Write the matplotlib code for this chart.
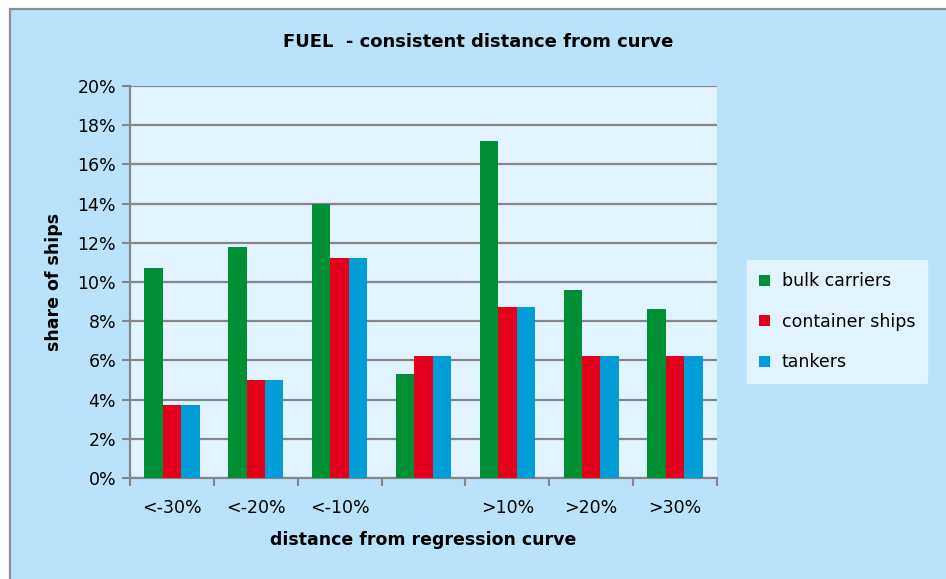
import matplotlib
matplotlib.use("Agg")
import matplotlib.pyplot as plt
from matplotlib.patches import Rectangle
import numpy as np

categories = ["<-30%", "<-20%", "<-10%", "", ">10%", ">20%", ">30%"]
bulk_carriers = [10.7, 11.8, 14.0, 5.3, 17.2, 9.6, 8.6]
container_ships = [3.75, 5.0, 11.25, 6.25, 8.75, 6.25, 6.25]
tankers = [3.75, 5.0, 11.25, 6.25, 8.75, 6.25, 6.25]

series = [
    ("bulk carriers", bulk_carriers, "#008f34"),
    ("container ships", container_ships, "#e2001d"),
    ("tankers", tankers, "#009dd9"),
]

outer_bg = "#b9e3fc"
plot_bg = "#e1f3ff"
grid_col = "#868686"

plt.rcParams["font.family"] = ["DejaVu Sans"]

fig = plt.figure(figsize=(9.46, 5.79), dpi=100, facecolor="white")
W, H = 946, 579

# chart frame, runs off the right and bottom edges
fig.patches.append(Rectangle((10 / W, -0.02), 1.0, (H - 9) / H + 0.02,
                             transform=fig.transFigure, facecolor=outer_bg,
                             edgecolor="#8e8e8e", linewidth=1.6, zorder=-10))

ax = fig.add_axes([130 / W, (H - 478) / H, 587 / W, 392 / H])
ax.set_facecolor(plot_bg)

x = np.arange(len(categories))
width = 0.22
for i, (name, vals, col) in enumerate(series):
    ax.bar(x + (i - 1) * width, vals, width, color=col, label=name, zorder=3)

ax.set_xlim(-0.5, len(categories) - 0.5)
ax.set_ylim(0, 20)
ax.set_yticks(np.arange(0, 21, 2))
ax.set_yticklabels([f"{v}%" for v in range(0, 21, 2)])
ax.yaxis.grid(True, color=grid_col, linewidth=1.6, zorder=1)

# category boundaries as major ticks, labels on minor ticks
ax.set_xticks(np.arange(-0.5, len(categories), 1.0))
ax.set_xticklabels([])
ax.set_xticks(x, minor=True)
ax.set_xticklabels(categories, minor=True)
ax.tick_params(axis="x", which="major", length=6, width=1.5, color=grid_col, direction="out")
ax.tick_params(axis="x", which="minor", length=0, pad=15, labelsize=12.5)
ax.tick_params(axis="y", length=6, width=1.5, color=grid_col, labelsize=12.5, pad=4)

for side in ["top", "right"]:
    ax.spines[side].set_visible(False)
for side in ["left", "bottom"]:
    ax.spines[side].set_color(grid_col)
    ax.spines[side].set_linewidth(1.6)

ax.set_xlabel("distance from regression curve", fontsize=12.5, fontweight="bold", labelpad=10)
ax.set_ylabel("share of ships", fontsize=12.5, fontweight="bold", labelpad=10)

fig.text(478 / W, 1 - 42 / H, "FUEL  - consistent distance from curve",
         ha="center", va="center", fontsize=13, fontweight="bold")

leg = ax.legend(loc="upper left", bbox_to_anchor=(747 / W, 1 - 260 / H),
                bbox_transform=fig.transFigure, frameon=True, fancybox=False,
                fontsize=12.5, handlelength=0.6, handleheight=0.6,
                handletextpad=0.7, labelspacing=1.3, borderpad=0.7,
                borderaxespad=0)
leg.get_frame().set_facecolor(plot_bg)
leg.get_frame().set_edgecolor(plot_bg)
leg.get_frame().set_alpha(1)

fig.savefig("out.png", dpi=100, facecolor=fig.get_facecolor())
